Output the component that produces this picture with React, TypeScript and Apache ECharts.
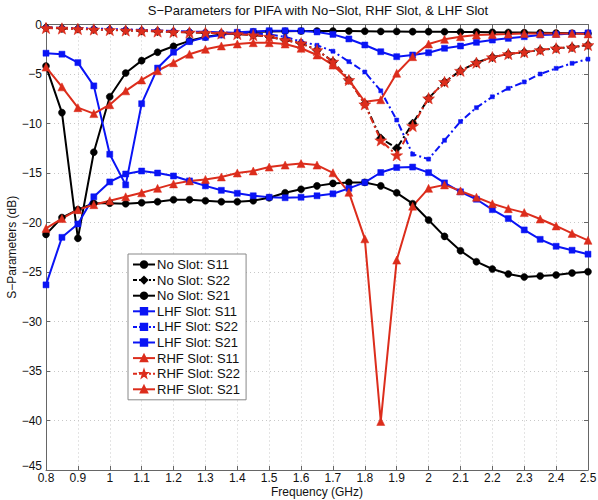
import React, { useEffect, useRef } from "react";
import * as echarts from "echarts";

const freq = [0.8, 0.85, 0.9, 0.95, 1.0, 1.05, 1.1, 1.15, 1.2, 1.25, 1.3, 1.35, 1.4, 1.45, 1.5, 1.55, 1.6, 1.65, 1.7, 1.75, 1.8, 1.85, 1.9, 1.95, 2.0, 2.05, 2.1, 2.15, 2.2, 2.25, 2.3, 2.35, 2.4, 2.45, 2.5];

const noSlotS11 = [-4.2, -8.9, -21.6, -12.9, -7.3, -4.9, -3.65, -2.8, -2.2, -1.65, -1.25, -1.0, -0.85, -0.75, -0.7, -0.68, -0.66, -0.66, -0.66, -0.66, -0.68, -0.7, -0.7, -0.72, -0.72, -0.74, -0.75, -0.76, -0.78, -0.8, -0.82, -0.84, -0.86, -0.88, -0.9];
const noSlotS22 = [-0.3, -0.38, -0.42, -0.48, -0.53, -0.58, -0.63, -0.68, -0.73, -0.78, -0.83, -0.9, -0.96, -1.07, -1.23, -1.57, -1.9, -2.58, -3.75, -5.6, -8.0, -11.5, -12.5, -10.0, -7.45, -5.8, -4.67, -3.86, -3.3, -2.98, -2.8, -2.58, -2.4, -2.3, -2.07];
const noSlotS21 = [-21.2, -19.5, -18.7, -18.05, -18.05, -18.1, -18.0, -17.9, -17.7, -17.7, -17.8, -17.9, -17.9, -17.8, -17.5, -17.0, -16.65, -16.3, -16.05, -15.95, -15.95, -16.3, -17.0, -18.1, -19.75, -21.4, -22.85, -23.96, -24.7, -25.2, -25.5, -25.4, -25.3, -25.1, -24.97];
const lhfS11 = [-2.9, -3.0, -3.85, -6.2, -13.1, -16.2, -8.0, -4.4, -2.8, -1.73, -1.3, -1.06, -0.79, -0.7, -0.63, -0.63, -0.65, -0.75, -1.0, -1.46, -2.07, -2.75, -3.25, -3.08, -2.85, -2.4, -2.17, -1.8, -1.57, -1.4, -1.23, -1.06, -1.0, -0.9, -0.85];
const lhfS22 = [-0.3, -0.35, -0.38, -0.4, -0.45, -0.5, -0.55, -0.6, -0.65, -0.7, -0.75, -0.8, -0.85, -0.9, -1.0, -1.25, -1.73, -2.1, -2.7, -3.75, -4.8, -6.7, -9.65, -13.1, -13.6, -11.7, -9.8, -8.4, -7.3, -6.45, -5.8, -5.0, -4.43, -3.92, -3.5];
const lhfS21 = [-26.3, -21.5, -20.15, -17.4, -15.9, -15.1, -14.8, -15.0, -15.3, -15.8, -16.3, -16.75, -17.05, -17.3, -17.45, -17.5, -17.45, -17.3, -17.1, -16.55, -15.95, -14.95, -14.45, -14.4, -14.96, -16.0, -16.9, -17.65, -18.7, -19.6, -20.75, -21.7, -22.4, -22.8, -23.2];
const rhfS11 = [-4.3, -6.3, -8.4, -9.0, -8.1, -6.7, -5.6, -4.67, -3.86, -3.0, -2.5, -2.17, -1.97, -1.84, -1.84, -1.97, -2.4, -3.08, -4.1, -5.6, -7.8, -7.6, -4.93, -3.25, -1.97, -1.5, -1.23, -1.06, -1.0, -0.97, -0.9, -0.9, -0.9, -0.9, -0.95];
const rhfS22 = [-0.35, -0.4, -0.45, -0.5, -0.55, -0.6, -0.65, -0.7, -0.75, -0.8, -0.83, -0.9, -0.96, -1.07, -1.23, -1.57, -1.9, -2.58, -3.75, -5.6, -8.06, -11.7, -13.2, -10.25, -7.45, -5.8, -4.67, -3.86, -3.3, -2.98, -2.8, -2.58, -2.4, -2.3, -2.07];
const rhfS21 = [-20.6, -19.6, -18.7, -18.2, -17.8, -17.4, -17.0, -16.55, -16.1, -15.8, -15.65, -15.4, -15.0, -14.8, -14.4, -14.2, -14.05, -14.2, -14.98, -16.95, -21.65, -40.1, -23.8, -18.35, -16.55, -16.2, -16.8, -17.45, -18.1, -18.6, -19.0, -19.65, -20.35, -21.1, -21.8];

const BLACK = "#000000";
const BLUE = "#0a14f5";
const RED = "#dc2d1c";
const STAR = "path://M0,-10L2.35,-3.24L9.51,-3.09L3.8,1.24L5.88,8.09L0,4L-5.88,8.09L-3.8,1.24L-9.51,-3.09L-2.35,-3.24Z";
const DASHDOT = [7, 3, 2, 3];
const FONT = "Liberation Sans";

function mk(name: string, values: number[], color: string, symbol: string, size: number, dashed: boolean) {
  return {
    name,
    type: "line",
    data: freq.map((f, i) => [f, values[i]]),
    symbol,
    symbolSize: size,
    symbolKeepAspect: true,
    showSymbol: true,
    itemStyle: { color, borderColor: color, borderWidth: 0.5 },
    lineStyle: { color, width: 2, type: dashed ? DASHDOT : "solid" },
    emphasis: { disabled: true },
  };
}

export default function App() {
  const ref = useRef<HTMLDivElement>(null);
  useEffect(() => {
    document.body.style.margin = "0";
    const chart = echarts.init(ref.current!, null, { renderer: "svg" });
    const minus = (v: number) => String(Number(v.toFixed(1))).replace("-", "\u2212");
    const yLabel = (v: number) => (v <= -45 ? "{lo|" + minus(v) + "}" : minus(v));
    const legendNames = [
      "No Slot: S11",
      "No Slot: S22",
      "No Slot: S21",
      "LHF Slot: S11",
      "LHF Slot: S22",
      "LHF Slot: S21",
      "RHF Slot: S11",
      "RHF Slot: S22",
      "RHF Slot: S21",
    ];
    chart.setOption({
      animation: false,
      backgroundColor: "#ffffff",
      textStyle: { fontFamily: FONT },
      graphic: [
        {
          type: "text",
          x: 318,
          y: 4,
          style: {
            text: "S\u2212Parameters for PIFA with No\u2212Slot, RHF Slot, & LHF Slot",
            fontFamily: FONT,
            fontSize: 13,
            fill: "#111",
            textAlign: "center",
          },
        },
      ],
      grid: { left: 46, right: 10, top: 24.5, bottom: 30, show: false, outerBoundsMode: "none", containLabel: false },
      legend: {
        orient: "vertical",
        left: 128,
        top: 254,
        itemWidth: 22,
        itemHeight: 8,
        itemGap: 2.6,
        padding: [4, 6, 4, 4],
        backgroundColor: "#ffffff",
        borderColor: "#888",
        borderWidth: 1,
        borderRadius: 0,
        textStyle: { fontFamily: FONT, fontSize: 13, color: "#111", lineHeight: 13, padding: [0, 0, 0, -3] },
        data: legendNames.map((n) => {
          const dashed = n.endsWith("S22");
          return dashed ? { name: n, lineStyle: { type: [4, 2, 2, 2] } } : { name: n };
        }),
      },
      xAxis: [
        {
          type: "value",
          min: 0.8,
          max: 2.5,
          interval: 0.1,
          name: "Frequency (GHz)",
          nameLocation: "middle",
          nameGap: 16,
          nameMoveOverlap: false,
          nameTextStyle: { fontFamily: FONT, fontSize: 12, color: "#111", verticalAlign: "top", lineHeight: 12 },
          axisLine: { show: true, onZero: false, lineStyle: { color: "#666", width: 1 } },
          axisTick: { show: true, inside: true, length: 4, lineStyle: { color: "#666" } },
          axisLabel: { formatter: minus, fontFamily: FONT, fontSize: 12, color: "#111", margin: 2, lineHeight: 12 },
          splitLine: { show: true, lineStyle: { color: "#c8c8c8", type: [1, 3], width: 1 } },
        },
        {
          type: "value",
          position: "top",
          min: 0.8,
          max: 2.5,
          interval: 0.1,
          axisLine: { show: true, onZero: false, lineStyle: { color: "#666", width: 1 } },
          axisTick: { show: true, inside: true, length: 4, lineStyle: { color: "#666" } },
          axisLabel: { show: false },
          splitLine: { show: false },
        },
      ],
      yAxis: [
        {
          type: "value",
          min: -45,
          max: 0,
          interval: 5,
          name: "S\u2212Parameters (dB)",
          nameLocation: "middle",
          nameGap: 28,
          nameMoveOverlap: false,
          nameTextStyle: { fontFamily: FONT, fontSize: 12, color: "#111", lineHeight: 12 },
          axisLine: { show: true, onZero: false, lineStyle: { color: "#666", width: 1 } },
          axisTick: { show: true, inside: true, length: 4, lineStyle: { color: "#666" } },
          axisLabel: {
            formatter: yLabel,
            fontFamily: FONT,
            fontSize: 12,
            color: "#111",
            margin: 4,
            lineHeight: 12,
            rich: { lo: { fontFamily: FONT, fontSize: 12, color: "#111", lineHeight: 12, padding: [0, 0, 9, 0] } },
          },
          splitLine: { show: true, lineStyle: { color: "#c8c8c8", type: [1, 3], width: 1 } },
        },
        {
          type: "value",
          position: "right",
          min: -45,
          max: 0,
          interval: 5,
          axisLine: { show: true, onZero: false, lineStyle: { color: "#666", width: 1 } },
          axisTick: { show: true, inside: true, length: 4, lineStyle: { color: "#666" } },
          axisLabel: { show: false },
          splitLine: { show: false },
        },
      ],
      series: [
        mk("No Slot: S11", noSlotS11, BLACK, "circle", 7, false),
        mk("No Slot: S22", noSlotS22, BLACK, "diamond", 9, true),
        mk("No Slot: S21", noSlotS21, BLACK, "circle", 7, false),
        mk("LHF Slot: S11", lhfS11, BLUE, "rect", 6, false),
        mk("LHF Slot: S22", lhfS22, BLUE, "rect", 4, true),
        mk("LHF Slot: S21", lhfS21, BLUE, "rect", 6, false),
        mk("RHF Slot: S11", rhfS11, RED, "triangle", 8, false),
        mk("RHF Slot: S22", rhfS22, RED, STAR, 12, true),
        mk("RHF Slot: S21", rhfS21, RED, "triangle", 8, false),
      ],
    });
    return () => chart.dispose();
  }, []);
  return <div ref={ref} style={{ position: "fixed", left: 0, top: 0, width: 598, height: 500 }} />;
}
